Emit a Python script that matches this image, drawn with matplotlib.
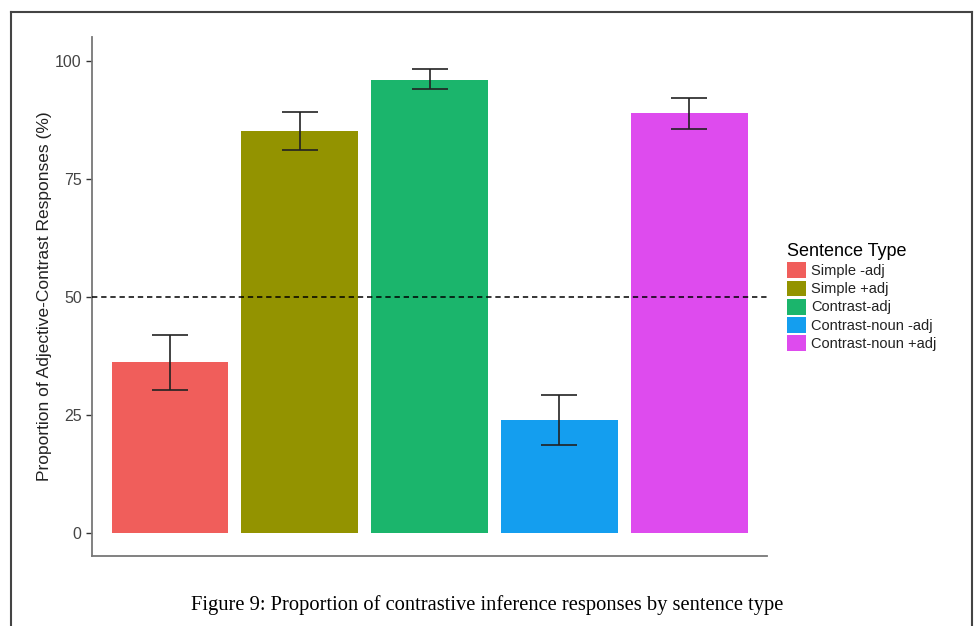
import matplotlib.pyplot as plt
import matplotlib.patches as mpatches
from matplotlib.lines import Line2D

# Percent of adjective-contrast responses per sentence type
categories = ["Simple -adj", "Simple +adj", "Contrast-adj",
              "Contrast-noun -adj", "Contrast-noun +adj"]
means = [36.2, 85.2, 95.9, 23.9, 89.0]
lower = [30.3, 81.1, 94.0, 18.5, 85.6]
upper = [41.9, 89.2, 98.2, 29.2, 92.2]
colors = ["#F05E5B", "#939300", "#1BB56C", "#149EEF", "#DE4BEE"]
yticks = [0, 25, 50, 75, 100]

plt.rcParams["font.family"] = ["Liberation Sans", "DejaVu Sans"]

fig = plt.figure(figsize=(9.74, 6.26), dpi=100)
ax = fig.add_axes([0.0945, 0.112, 0.693, 0.829])

x = list(range(1, len(categories) + 1))
ax.bar(x, means, width=0.9, color=colors, edgecolor="none", zorder=2)
err = [[m - lo for m, lo in zip(means, lower)],
       [up - m for m, up in zip(means, upper)]]
ax.errorbar(x, means, yerr=err, fmt="none", ecolor="#222222",
            elinewidth=1.2, capsize=13, capthick=1.2, zorder=3)
ax.axhline(50, color="black", linestyle=(0, (3.5, 2.5)), linewidth=1.1, zorder=4)

ax.set_xlim(0.4, 5.6)
ax.set_ylim(-4.9, 105.1)
ax.set_yticks(yticks)
ax.set_xticks([])
ax.tick_params(axis="y", length=4, width=1, color="#333333",
               labelsize=11.5, labelcolor="#444444", pad=3.5)
for side in ["top", "right"]:
    ax.spines[side].set_visible(False)
for side in ["left", "bottom"]:
    ax.spines[side].set_color("#777777")
    ax.spines[side].set_linewidth(1.3)
ax.set_ylabel("Proportion of Adjective-Contrast Responses (%)",
              fontsize=12.5, color="#222222", labelpad=2)

handles = [mpatches.Patch(facecolor=c, edgecolor="none", label=l)
           for l, c in zip(categories, colors)]
leg = fig.legend(handles=handles, title="Sentence Type", loc="upper left",
                 bbox_to_anchor=(0.801, 0.623), frameon=False, fontsize=10.5,
                 title_fontsize=13, handlelength=1.3, handleheight=1.3,
                 handletextpad=0.3, labelspacing=0.15, borderpad=0)
leg._legend_box.align = "left"
for t in leg.get_texts():
    t.set_color("#222222")

fig.text(0.5, 0.034, "Figure 9: Proportion of contrastive inference responses by sentence type",
         ha="center", va="center", fontsize=14.8, family="Liberation Serif")

# page frame around the figure
for xs, ys in [([0.0113, 0.0113], [0.981, 0.0]),
               ([0.0113, 0.9975], [0.981, 0.981]),
               ([0.9975, 0.9975], [0.981, 0.0])]:
    fig.add_artist(Line2D(xs, ys, transform=fig.transFigure,
                          color="#444444", linewidth=1.5))

fig.savefig("out.png", dpi=100)
